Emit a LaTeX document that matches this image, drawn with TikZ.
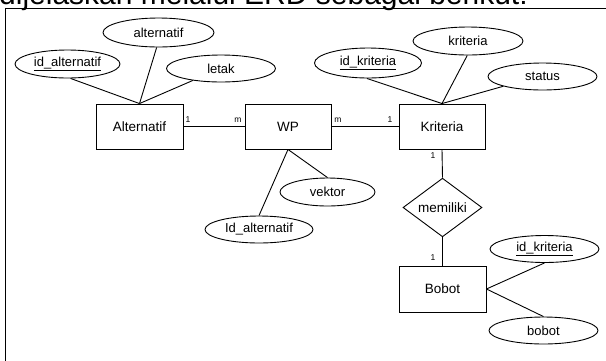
\documentclass[tikz,border=0pt]{standalone}
\usepackage{fontspec}
\setmainfont{Liberation Sans}
\usetikzlibrary{shapes.geometric}
\begin{document}
\begin{tikzpicture}[x=1pt,y=-1pt,
  entity/.style={draw, rectangle, line width=0.9pt, minimum width=87pt, minimum height=45pt, inner sep=0pt, font=\fontsize{13.5}{16}\selectfont},
  attr/.style={draw, ellipse, line width=0.9pt, inner sep=0pt, font=\fontsize{13}{16}\selectfont},
  rel/.style={draw, diamond, line width=0.9pt, inner sep=0pt, minimum width=79pt, minimum height=49pt, font=\fontsize{13.5}{16}\selectfont},
  card/.style={inner sep=0pt, font=\fontsize{8.5}{10}\selectfont},
  link/.style={line width=0.9pt}]
\useasboundingbox (0,0) rectangle (606,360);
\clip (0,0) rectangle (606,360);
\fill[white] (0,0) rectangle (606,360);
\node[anchor=base west, inner sep=0pt, font=\fontsize{30}{30}\selectfont] (head) at (-1,4) {dijelaskan melalui ERD sebagai berikut:};
\draw[line width=1.6pt] (5.5,380) -- (5.5,8.5) -- (620,8.5);

% entities
\node[entity] (alt) at (139.5,126.5) {Alternatif};
\node[entity, minimum width=86pt] (wp) at (288,126.5) {WP};
\node[entity, minimum width=86pt] (krit) at (442,126.5) {Kriteria};
\node[entity, minimum height=46pt] (bob) at (442.5,289) {Bobot};
\node[rel] (mem) at (442.5,207.5) {memiliki};

% attributes
\node[attr, minimum width=111pt, minimum height=29pt] (aalt) at (158.5,32.5) {alternatif};
\node[attr, minimum width=105pt, minimum height=28pt] (aidalt) at (67.5,64) {\underline{id\_alternatif}};
\node[attr, minimum width=109pt, minimum height=27pt] (aletak) at (221,68.5) {letak};
\node[attr, minimum width=107pt, minimum height=30pt] (aidkrit) at (368,63) {\underline{id\_kriteria}};
\node[attr, minimum width=110pt, minimum height=28pt] (akrit) at (468,41) {kriteria};
\node[attr, minimum width=109pt, minimum height=27pt] (astatus) at (542.5,76.5) {status};
\node[attr, minimum width=95pt, minimum height=28pt] (avek) at (327.5,192) {vektor};
\node[attr, minimum width=108pt, minimum height=27pt] (aidalt2) at (259,229.5) {Id\_alternatif};
\node[attr, minimum width=109pt, minimum height=27pt] (aidkrit2) at (544.5,249) {\underline{id\_kriteria}};
\node[attr, minimum width=109pt, minimum height=27pt] (abobot) at (543.5,330.5) {bobot};

% attribute links
\draw[link] (aidalt.-78) -- (alt.north);
\draw[link] (aalt.-97) -- (alt.north);
\draw[link] (aletak.-157) -- (alt.north);
\draw[link] (aidkrit.-94) -- (krit.north);
\draw[link] (akrit.-93) -- (krit.north);
\draw[link] (astatus.-166) -- (krit.north);
\draw[link] (wp.south) -- (avek.north);
\draw[link] (wp.south) -- (aidalt2.north);
\draw[link] (bob.east) -- (aidkrit2.south);
\draw[link] (bob.east) -- (abobot.north);

% relationships
\draw[link] (alt.east) -- (wp.west);
\draw[link] (wp.east) -- (krit.west);
\draw[link] (krit.south) -- (mem.north);
\draw[link] (mem.south) -- (bob.north);

% cardinalities
\node[card] (c1) at (188,120) {1};
\node[card] (c2) at (238,120) {m};
\node[card] (c3) at (338,120) {m};
\node[card] (c4) at (390,120) {1};
\node[card] (c5) at (433,156) {1};
\node[card] (c6) at (433,258) {1};
\end{tikzpicture}
\end{document}
